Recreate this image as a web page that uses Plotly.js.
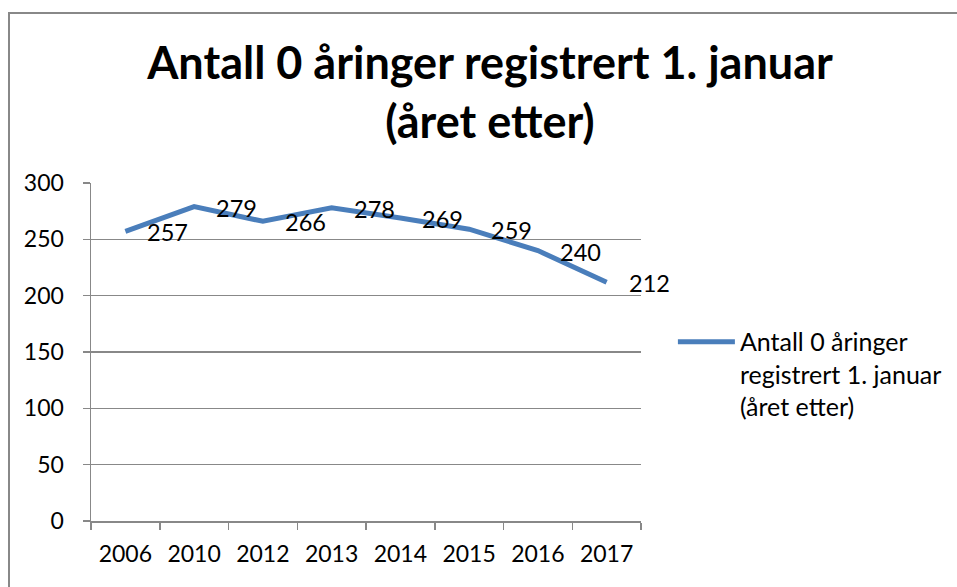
<!DOCTYPE html>
<html>
<head>
<meta charset="utf-8">
<script src="https://cdn.plot.ly/plotly-3.0.1.min.js"></script>
<style>
html,body{margin:0;padding:0;background:#fff;}
#wrap{position:relative;width:957px;height:587px;overflow:hidden;}
#chart{position:absolute;left:0;top:0;width:957px;height:587px;}
#frame{position:absolute;left:8px;top:12px;width:1000px;height:1000px;border-left:2px solid #888;border-top:2px solid #888;pointer-events:none;}
</style>
</head>
<body>
<div id="wrap"><div id="chart"></div><div id="frame"></div></div>
<script>
const categories = ["2006","2010","2012","2013","2014","2015","2016","2017"];
const values = [257, 279, 266, 278, 269, 259, 240, 212];
const seriesName = "Antall 0 åringer<br>registrert 1. januar<br>(året etter)";
const titleText = "Antall 0 åringer registrert 1. januar<br>(året etter)";
const yTicks = [0, 50, 100, 150, 200, 250, 300];

const FONT = "Lato, 'Carlito', Calibri, sans-serif";
const GRID = "#888888";

const trace = {
  type: "scatter",
  mode: "lines",
  x: categories,
  y: values,
  name: seriesName,
  line: {color: "#4A7EBB", width: 5},
  hoverinfo: "x+y"
};

const annotations = categories.map((c, i) => ({
  x: i, y: values[i], xref: "x", yref: "y",
  text: String(values[i]),
  showarrow: false,
  xanchor: "left", yanchor: "middle",
  xshift: 20, yshift: -1,
  font: {family: FONT, size: 23.5, color: "#000"}
}));

const layout = {
  width: 957, height: 587,
  margin: {l: 91, r: 316, t: 183, b: 66, autoexpand: false},
  paper_bgcolor: "#fff", plot_bgcolor: "#fff",
  font: {family: FONT, size: 23, color: "#000"},
  title: {
    text: titleText,
    font: {family: FONT, size: 45, weight: "bold", color: "#000"},
    x: 0.512, xanchor: "center", xref: "container",
    y: 0.865, yanchor: "middle", yref: "container"
  },
  xaxis: {
    type: "category",
    range: [-0.5, categories.length - 0.5],
    showgrid: false,
    showline: true, linecolor: GRID, linewidth: 1.5,
    ticks: "outside", tickson: "boundaries", ticklen: 7, tickcolor: GRID, tickwidth: 1.5,
    tickfont: {family: FONT, size: 23, color: "#000"},
    ticklabelstandoff: 12,
    automargin: false,
    fixedrange: true
  },
  yaxis: {
    range: [0, 300],
    tickvals: yTicks,
    ticktext: yTicks.map(String),
    showgrid: true, gridcolor: GRID, gridwidth: 1.5,
    zeroline: false,
    showline: true, linecolor: GRID, linewidth: 1.5,
    ticks: "outside", ticklen: 7, tickcolor: GRID, tickwidth: 1.5,
    tickfont: {family: FONT, size: 23, color: "#000"},
    ticklabelstandoff: 14,
    automargin: false,
    fixedrange: true
  },
  showlegend: true,
  legend: {
    x: 1.058, xanchor: "left",
    y: 0.598, yanchor: "top",
    valign: "top",
    itemwidth: 57,
    font: {family: FONT, size: 25, color: "#000"},
    bgcolor: "rgba(0,0,0,0)",
    borderwidth: 0
  },
  annotations: annotations
};

Plotly.newPlot("chart", [trace], layout, {displayModeBar: false, staticPlot: true});
</script>
</body>
</html>
